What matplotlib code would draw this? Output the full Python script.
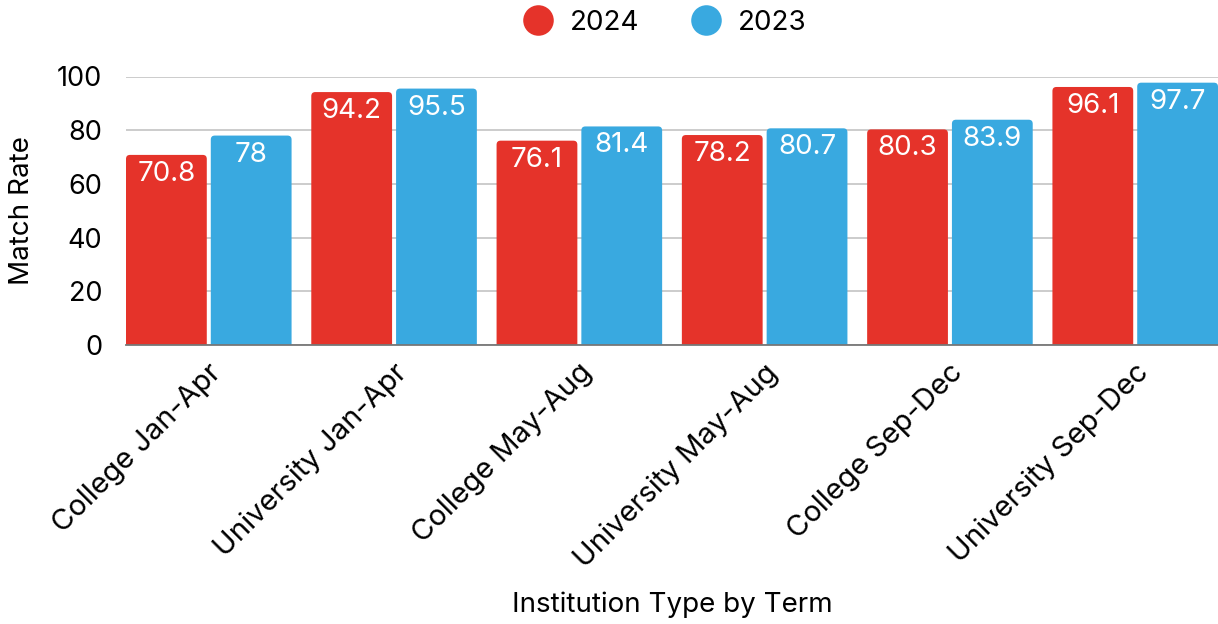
import matplotlib
matplotlib.use("Agg")
import matplotlib.pyplot as plt
import matplotlib.transforms as mtransforms
from matplotlib.patches import FancyBboxPatch
from matplotlib.lines import Line2D
import numpy as np

categories = ["College Jan-Apr", "University Jan-Apr", "College May-Aug",
              "University May-Aug", "College Sep-Dec", "University Sep-Dec"]
rate_2024 = [70.8, 94.2, 76.1, 78.2, 80.3, 96.1]
rate_2023 = [78, 95.5, 81.4, 80.7, 83.9, 97.7]
series_names = ["2024", "2023"]

RED = "#E5332A"
BLUE = "#39A9E0"

plt.rcParams["font.family"] = ["Inter", "DejaVu Sans"]

fig = plt.figure(figsize=(12.18, 6.24), dpi=100)
ax = fig.add_axes([126 / 1218, 1 - 345 / 624, 1 - 126 / 1218, (345 - 76.5) / 624])

bar_w = 0.436
gap = 0.0216
x = np.arange(len(categories))
off = bar_w / 2 + gap / 2

bars_a = ax.bar(x - off, rate_2024, bar_w, color=RED)
bars_b = ax.bar(x + off, rate_2023, bar_w, color=BLUE)

ax.set_xlim(-(bar_w + gap / 2), len(categories) - 1 + bar_w + gap / 2)
ax.set_ylim(0, 100)
fig.canvas.draw()

# swap plain rectangles for ones with slightly rounded tops
px_x = ax.transData.transform((1, 0))[0] - ax.transData.transform((0, 0))[0]
px_y = ax.transData.transform((0, 1))[1] - ax.transData.transform((0, 0))[1]
r_px = 4.0
rx = r_px / px_x
aspect = (r_px / px_y) / rx
for bars in (bars_a, bars_b):
    for p in bars.patches:
        bx, by = p.get_x(), p.get_y()
        bw, bh = p.get_width(), p.get_height()
        fb = FancyBboxPatch((bx, by - 3), bw, bh + 3,
                            boxstyle=f"round,pad=0,rounding_size={rx}",
                            mutation_aspect=aspect,
                            facecolor=p.get_facecolor(), edgecolor="none",
                            zorder=2)
        ax.add_patch(fb)
        p.set_visible(False)

# value labels inside bar tops
for vals, xs in ((rate_2024, x - off), (rate_2023, x + off)):
    for xi, v in zip(xs, vals):
        ax.annotate(f"{v:g}", (xi, v), xytext=(0, -6), textcoords="offset pixels",
                    ha="center", va="top", color="white", fontsize=20, zorder=3)

ax.set_yticks([0, 20, 40, 60, 80, 100])
ax.tick_params(axis="y", length=0, labelsize=19.5, pad=17, colors="black")
ax.yaxis.grid(True, color="#C8C8C8", linewidth=1.3)
ax.set_axisbelow(True)
for s in ("top", "right", "left"):
    ax.spines[s].set_visible(False)
ax.spines["bottom"].set_color("#777777")
ax.spines["bottom"].set_linewidth(1.3)
ax.spines["bottom"].set_zorder(4)

ax.set_xticks(x)
ax.set_xticklabels(categories, rotation=45, ha="right", va="top",
                   rotation_mode="anchor", fontsize=21)
ax.tick_params(axis="x", length=0, pad=10)
shift = mtransforms.ScaledTranslation(-1 / 100, 0, fig.dpi_scale_trans)
for lbl in ax.get_xticklabels():
    lbl.set_transform(lbl.get_transform() + shift)

ax.set_ylabel("Match Rate", fontsize=20)
ax.yaxis.set_label_coords(-(126 - 35) / 1092, 0.5)
fig.text(0.5 + 63 / 1218, 1 - 605 / 624, "Institution Type by Term",
         ha="center", va="center", fontsize=20)

handles = [Line2D([], [], linestyle="none", marker="o", markersize=22,
                  markerfacecolor=c, markeredgecolor="none")
           for c in (RED, BLUE)]
fig.legend(handles, series_names, loc="center", bbox_to_anchor=(0.545, 1 - 23 / 624),
           ncol=2, frameon=False, fontsize=20, handletextpad=0.55,
           columnspacing=1.8, handlelength=1.2)

fig.savefig("out.png", dpi=100)
